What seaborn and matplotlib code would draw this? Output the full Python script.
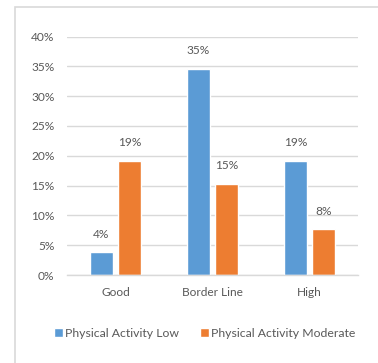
import matplotlib
matplotlib.use("Agg")
import matplotlib.pyplot as plt
import seaborn as sns
import pandas as pd
from matplotlib.patches import Rectangle

# Chart data
categories = ["Good", "Border Line", "High"]
series_names = ["Physical Activity Low", "Physical Activity Moderate"]
activity_low = [0.038, 0.346, 0.192]
activity_moderate = [0.192, 0.153, 0.077]
y_ticks = [0.0, 0.05, 0.10, 0.15, 0.20, 0.25, 0.30, 0.35, 0.40]

df = pd.DataFrame({
    "category": categories * 2,
    "series": [series_names[0]] * 3 + [series_names[1]] * 3,
    "value": activity_low + activity_moderate,
})

sns.set_theme(style="white")
plt.rcParams["font.family"] = ["Lato", "DejaVu Sans"]

text_color = "#595959"
grid_color = "#D9D9D9"
palette = {series_names[0]: "#5B9BD5", series_names[1]: "#ED7D31"}
fs = 8.6

fig = plt.figure(figsize=(3.78, 3.63), dpi=100)
fig.patch.set_facecolor("white")

# Light chart-area frame
fig.patches.append(Rectangle((15 / 378, -0.1), 1.2, 1 - 7 / 363 + 0.1,
                             transform=fig.transFigure, fill=False,
                             edgecolor="#D9D9D9", linewidth=1.2, zorder=0))

ax = fig.add_axes([67 / 378, 1 - 275 / 363, 291 / 378, (275 - 36.5) / 363])
sns.barplot(data=df, x="category", y="value", hue="series", order=categories,
            hue_order=series_names, palette=palette, width=0.577, gap=0.21,
            saturation=1, ax=ax, legend=True)

ax.set_ylim(0, 0.4)
ax.set_yticks(y_ticks)
ax.set_yticklabels([f"{t:.0%}" for t in y_ticks])
ax.set_xlabel("")
ax.set_ylabel("")
ax.yaxis.grid(True, color=grid_color, linewidth=1)
ax.set_axisbelow(True)
for side in ["top", "right", "left"]:
    ax.spines[side].set_visible(False)
ax.spines["bottom"].set_color(grid_color)
ax.spines["bottom"].set_linewidth(1)
ax.tick_params(axis="both", length=0, labelsize=fs, colors=text_color)
ax.tick_params(axis="y", pad=9)
ax.tick_params(axis="x", pad=9)
ax.set_xlim(-0.5, 2.5)

for container in ax.containers:
    ax.bar_label(container, fmt=lambda v: f"{v:.0%}", padding=9,
                 fontsize=fs, color=text_color)

handles, labels = ax.get_legend_handles_labels()
ax.legend(handles, labels, loc="center", bbox_to_anchor=(0.474, -0.245),
          ncol=2, frameon=False, fontsize=fs + 0.2, labelcolor=text_color,
          handlelength=0.7, handleheight=0.7, handletextpad=0.2,
          columnspacing=1.7, borderaxespad=0)

fig.savefig("out.png", dpi=100, facecolor="white")
